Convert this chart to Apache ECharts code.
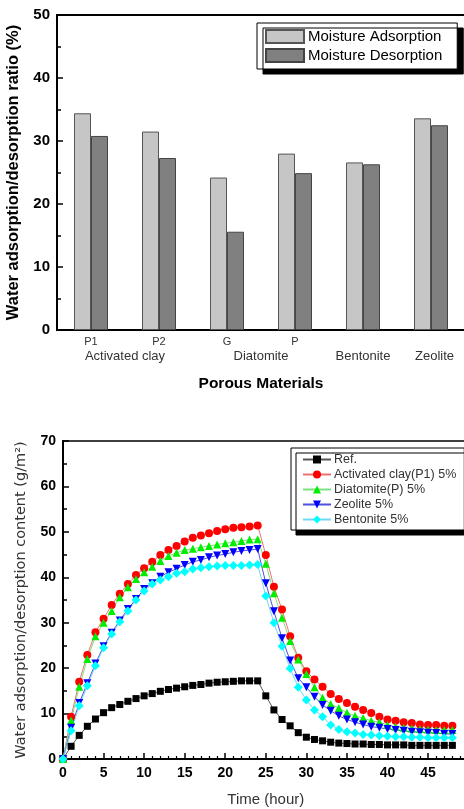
<!DOCTYPE html>
<html><head><meta charset="utf-8">
<script src="https://cdn.jsdelivr.net/npm/echarts@6/dist/echarts.min.js"></script>
<style>html,body{margin:0;padding:0;background:#fff}#c{width:464px;height:809px}</style>
</head><body><div id="c"></div>
<script>
// ---- Top chart data ----
const barCategories = ['P1', 'P2', 'G', 'P', 'Bentonite', 'Zeolite'];
const firstLineLabels = ['P1', 'P2', 'G', 'P', '', ''];
const groupLabels = ['', '', 'Activated clay', '', '', '', 'Diatomite', '', '', 'Bentonite', '', 'Zeolite', ''];
const adsorption = [34.4, 31.5, 24.2, 28.0, 26.6, 33.6];
const desorption = [30.8, 27.3, 15.6, 24.9, 26.3, 32.5];

// ---- Bottom chart data ----
const hours = [0,1,2,3,4,5,6,7,8,9,10,11,12,13,14,15,16,17,18,19,20,21,22,23,24,25,26,27,28,29,30,31,32,33,34,35,36,37,38,39,40,41,42,43,44,45,46,47,48];
const refSeries = [0,2.8,5.2,7.2,8.8,10.2,11.3,12.0,12.7,13.3,13.9,14.4,14.9,15.3,15.6,15.9,16.2,16.4,16.7,16.9,17.0,17.1,17.2,17.2,17.2,13.9,10.8,8.7,7.3,5.8,4.8,4.3,4.0,3.7,3.5,3.4,3.3,3.3,3.2,3.2,3.1,3.1,3.1,3.0,3.0,3.0,3.0,3.0,3.0];
const activatedClay = [0,9.3,17.0,22.9,27.9,30.9,33.9,36.4,38.5,40.5,42.0,43.4,44.9,46.0,46.9,47.9,48.7,49.2,49.7,50.2,50.6,50.9,51.0,51.2,51.4,44.9,37.9,32.9,27.0,22.3,19.3,17.5,15.9,14.3,13.2,12.3,11.5,10.8,10.1,9.3,8.7,8.4,8.1,7.9,7.6,7.5,7.5,7.3,7.3];
const diatomite = [0,8.5,15.9,22.0,27.0,30.0,32.6,35.6,37.8,39.6,41.1,42.3,43.6,44.7,45.4,46.0,46.3,46.6,46.9,47.2,47.5,47.7,48.0,48.3,48.4,43.0,36.5,31.1,26.0,21.9,18.7,15.8,13.5,12.1,11.2,10.2,9.5,9.0,8.4,8.1,7.5,7.1,6.9,6.7,6.6,6.5,6.4,6.4,6.4];
const zeolite = [0,6.9,12.3,16.7,21.0,24.8,27.8,30.5,33.0,35.2,37.4,38.7,40.1,41.1,41.9,42.7,43.4,43.8,44.4,44.8,45.1,45.5,45.8,46.0,46.2,38.7,32.5,26.6,21.7,17.8,15.8,13.7,11.9,10.6,9.5,8.7,8.1,7.6,7.1,6.9,6.6,6.4,6.2,6.0,5.9,5.8,5.7,5.5,5.5];
const bentonite = [0,6.2,11.7,16.1,20.5,24.5,27.5,30.2,32.6,35.0,37.0,38.5,39.4,40.1,40.9,41.2,41.8,42.1,42.3,42.5,42.6,42.6,42.6,42.7,42.8,35.9,30.0,24.8,19.9,15.8,13.0,10.8,9.3,7.5,6.5,6.0,5.7,5.4,5.3,5.1,5.0,4.9,4.9,4.8,4.8,4.7,4.7,4.7,4.7];

const FONT = 'Arial, "Liberation Sans", sans-serif';
function pairs(arr) { return hours.map((h, i) => [h, arr[i]]); }

const chart = echarts.init(document.getElementById('c'), null, {renderer: 'canvas'});
chart.setOption({
  animation: false,
  backgroundColor: '#fff',
  textStyle: {fontFamily: FONT},
  grid: [
    {left: 57, top: 15, width: 408, bottom: 479, show: true, borderColor: '#000', borderWidth: 2,
      containLabel: false, outerBoundsMode: 'none'},
    {left: 63, top: 441, width: 405.6, bottom: 50, show: true, borderColor: '#000', borderWidth: 1.5,
      containLabel: false, outerBoundsMode: 'none'}
  ],
  legend: [
    {
      left: 257, top: 23, orient: 'vertical', icon: 'rect',
      data: ['Moisture Adsorption', 'Moisture Desorption'],
      itemWidth: 38, itemHeight: 13, itemGap: 4,
      padding: [6, 15, 6, 8],
      backgroundColor: '#fff', borderColor: '#000', borderWidth: 1,
      shadowColor: '#000', shadowBlur: 0, shadowOffsetX: 6, shadowOffsetY: 5,
      textStyle: {fontSize: 15, color: '#000', fontFamily: FONT, padding: [0,0,0,-1]}
    },
    {
      left: 291, top: 448, orient: 'vertical',
      data: ['Ref.', 'Activated clay(P1) 5%', 'Diatomite(P) 5%', 'Zeolite 5%', 'Bentonite 5%'],
      itemWidth: 28, itemHeight: 10, itemGap: 2,
      padding: [5, 8, 4, 11],
      backgroundColor: '#fff', borderColor: '#000', borderWidth: 1,
      shadowColor: '#000', shadowBlur: 0, shadowOffsetX: 5, shadowOffsetY: 5,
      textStyle: {fontSize: 12.5, color: '#333', fontFamily: FONT, padding: [0,0,0,-2]}
    }
  ],
  xAxis: [
    {
      type: 'category', gridIndex: 0, data: barCategories,
      axisLine: {lineStyle: {color: '#000', width: 2}},
      axisTick: {show: false},
      axisLabel: {fontSize: 11, color: '#333', margin: 6, interval: 0,
        formatter: (v, i) => firstLineLabels[i]},
      name: 'Porous Materials', nameLocation: 'middle', nameGap: 46,
      nameTextStyle: {fontSize: 15.5, fontWeight: 'bold', color: '#000'}
    },
    {
      type: 'category', gridIndex: 0, data: groupLabels, boundaryGap: false, position: 'bottom',
      axisLine: {show: false}, axisTick: {show: false},
      axisLabel: {fontSize: 13, color: '#333', margin: 20, interval: 0,
        formatter: v => v === 'Zeolite' ? '{z|' + v + '}' : v,
        rich: {z: {fontSize: 13, color: '#333', padding: [0, 0, 0, 7]}}}
    },
    {
      type: 'value', gridIndex: 1, min: 0, max: 50, interval: 5,
      axisLine: {lineStyle: {color: '#000', width: 2}},
      axisTick: {inside: true, length: 6, lineStyle: {color: '#000', width: 1.5}},
      minorTick: {show: true, splitNumber: 5, length: 3, lineStyle: {color: '#000', width: 1.2}},
      splitLine: {show: false},
      axisLabel: {fontSize: 14, fontWeight: 'bold', color: '#000', margin: 7, showMaxLabel: false},
      name: 'Time (hour)', nameLocation: 'middle', nameGap: 33,
      nameTextStyle: {fontSize: 15, color: '#333'}
    }
  ],
  yAxis: [
    {
      type: 'value', gridIndex: 0, min: 0, max: 50, interval: 10,
      axisLine: {show: true, lineStyle: {color: '#000', width: 2}},
      axisTick: {show: true, inside: true, length: 6, lineStyle: {color: '#000', width: 1.5}},
      minorTick: {show: true, splitNumber: 2, length: 4, lineStyle: {color: '#000', width: 1.5}},
      splitLine: {show: false},
      axisLabel: {fontSize: 15, fontWeight: 'bold', color: '#000', margin: 7},
      name: 'Water adsorption/desorption ratio (%)', nameLocation: 'middle', nameGap: 31,
      nameTextStyle: {fontSize: 16.5, fontWeight: 'bold', color: '#000'}
    },
    {
      type: 'value', gridIndex: 1, min: 0, max: 70, interval: 10,
      axisLine: {show: true, lineStyle: {color: '#000', width: 2}},
      axisTick: {show: true, inside: true, length: 6, lineStyle: {color: '#000', width: 1.5}},
      minorTick: {show: true, splitNumber: 2, length: 4, lineStyle: {color: '#000', width: 1.5}},
      splitLine: {show: false},
      axisLabel: {fontSize: 14, fontWeight: 'bold', color: '#000', margin: 7},
      name: 'Water adsorption/desorption content (g/m\u00B2)', nameLocation: 'middle', nameGap: 34,
      nameTextStyle: {fontSize: 14.5, color: '#333', fontFamily: '"DejaVu Sans", sans-serif'}
    }
  ],
  series: [
    {name: 'Moisture Adsorption', type: 'bar', xAxisIndex: 0, yAxisIndex: 0, data: adsorption,
      barWidth: 17, barGap: '0%',
      itemStyle: {color: '#c6c6c6', borderColor: '#555', borderWidth: 1}},
    {name: 'Moisture Desorption', type: 'bar', xAxisIndex: 0, yAxisIndex: 0, data: desorption,
      barWidth: 17, barGap: '0%',
      itemStyle: {color: '#808080', borderColor: '#444', borderWidth: 1}},
    {name: 'Ref.', type: 'line', xAxisIndex: 2, yAxisIndex: 1, data: pairs(refSeries),
      symbol: 'rect', symbolSize: 7, lineStyle: {color: '#555', width: 1},
      itemStyle: {color: '#000'}},
    {name: 'Activated clay(P1) 5%', type: 'line', xAxisIndex: 2, yAxisIndex: 1, data: pairs(activatedClay),
      symbol: 'circle', symbolSize: 8, lineStyle: {color: '#f07070', width: 1},
      itemStyle: {color: '#ff0000'}},
    {name: 'Diatomite(P) 5%', type: 'line', xAxisIndex: 2, yAxisIndex: 1, data: pairs(diatomite),
      symbol: 'triangle', symbolSize: 8, lineStyle: {color: '#80e080', width: 1},
      itemStyle: {color: '#00ee00'}},
    {name: 'Zeolite 5%', type: 'line', xAxisIndex: 2, yAxisIndex: 1, data: pairs(zeolite),
      symbol: 'triangle', symbolRotate: 180, symbolSize: 8, lineStyle: {color: '#5050e0', width: 1},
      itemStyle: {color: '#0000ff'}},
    {name: 'Bentonite 5%', type: 'line', xAxisIndex: 2, yAxisIndex: 1, data: pairs(bentonite),
      symbol: 'diamond', symbolSize: 9, lineStyle: {color: '#70d8f0', width: 1},
      itemStyle: {color: '#00ffff'}}
  ]
});
</script>
</body></html>
